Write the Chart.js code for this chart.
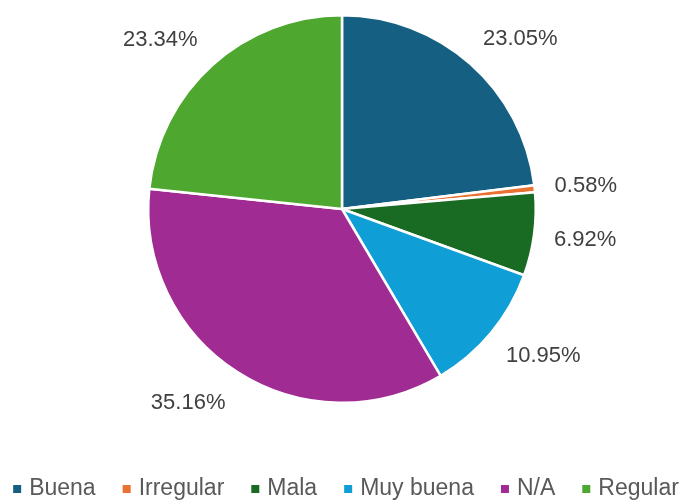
<!DOCTYPE html>
<html>
<head>
<meta charset="utf-8">
<script src="https://cdn.jsdelivr.net/npm/chart.js@4.4.1/dist/chart.umd.min.js"></script>
<style>
  html, body { margin: 0; padding: 0; background: #fff; }
  #wrap { width: 684px; height: 500px; }
</style>
</head>
<body>
<div id="wrap"><canvas id="pieChart"></canvas></div>
<script>
const categories = ['Buena', 'Irregular', 'Mala', 'Muy buena', 'N/A', 'Regular'];
const shares = [23.05, 0.58, 6.92, 10.95, 35.16, 23.34];
const colors = ['#156082', '#E97132', '#196B24', '#0F9ED5', '#A02B93', '#4EA72E'];

const FONT = '"Liberation Sans", Arial, sans-serif';

// percentage labels just outside each slice
const outsideLabels = {
    id: 'outsideLabels',
    afterDatasetsDraw(chart) {
        const ctx = chart.ctx;
        const meta = chart.getDatasetMeta(0);
        ctx.save();
        ctx.font = '22px ' + FONT;
        ctx.fillStyle = '#404040';
        ctx.textBaseline = 'middle';
        ctx.textAlign = 'center';
        meta.data.forEach((arc, i) => {
            const p = arc.getProps(['x', 'y', 'startAngle', 'endAngle', 'outerRadius']);
            const mid = (p.startAngle + p.endAngle) / 2;
            const d = p.outerRadius + 22;
            const ax = p.x + Math.cos(mid) * d;
            const ay = p.y + Math.sin(mid) * d;
            const txt = shares[i].toFixed(2) + '%';
            const w = ctx.measureText(txt).width;
            const h = 26;
            const cx = ax + (Math.cos(mid) >= 0 ? w / 2 - 2 : -w / 2);
            const cy = ay + Math.sin(mid) * h / 2 + 1;
            ctx.fillText(txt, cx, cy);
        });
        ctx.restore();
    }
};

// legend row along the bottom
const bottomLegend = {
    id: 'bottomLegend',
    afterDraw(chart) {
        const ctx = chart.ctx;
        ctx.save();
        ctx.font = '23px ' + FONT;
        ctx.textBaseline = 'middle';
        const box = 8, boxGap = 8, itemGap = 27;
        const widths = categories.map(c => ctx.measureText(c).width);
        let total = 0;
        widths.forEach(w => total += box + boxGap + w);
        total += itemGap * (categories.length - 1);
        let x = (chart.width - total) / 2 + 4;
        const y = 489;
        categories.forEach((c, i) => {
            ctx.fillStyle = colors[i];
            ctx.fillRect(x, y - box / 2, box, box);
            x += box + boxGap;
            ctx.fillStyle = '#595959';
            ctx.textAlign = 'left';
            ctx.fillText(c, x, y);
            x += widths[i] + itemGap;
        });
        ctx.restore();
    }
};

const pieCtx = document.getElementById('pieChart').getContext('2d');
const pieChart = new Chart(pieCtx, {
    type: 'pie',
    data: {
        labels: categories,
        datasets: [{
            data: shares,
            backgroundColor: colors,
            borderColor: '#ffffff',
            borderWidth: 2.5
        }]
    },
    options: {
        responsive: true,
        maintainAspectRatio: false,
        animation: false,
        events: [],
        layout: { padding: { top: 14, bottom: 96, left: 0, right: 0 } },
        plugins: {
            legend: { display: false },
            tooltip: { enabled: false }
        }
    },
    plugins: [outsideLabels, bottomLegend]
});
</script>
</body>
</html>
